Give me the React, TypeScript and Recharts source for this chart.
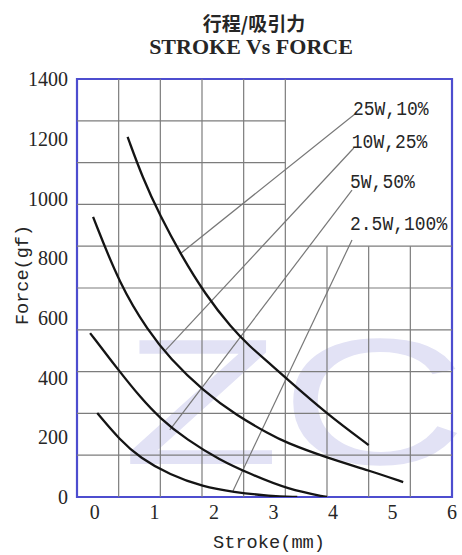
import React from "react";
import {
  LineChart, Line, XAxis, YAxis, ReferenceLine, ReferenceArea, Label,
} from "recharts";

// ── Curves: stroke (mm) → force (gf) ──────────────────────────────────────
const stroke25W = [0.55, 0.8, 1.1, 1.45, 1.85, 2.3, 2.6, 2.95, 3.2, 3.9, 4.6];
const force25W  = [1206, 1070, 940, 810, 680, 565, 505, 445, 400, 278, 174];

const stroke10W = [-0.03, 0.42, 0.9, 1.26, 1.82, 2.39, 2.94, 3.19, 3.9, 4.62, 5.18];
const force10W  = [938, 710, 555, 465, 355, 272, 210, 184, 131, 88, 50];

const stroke5W = [-0.08, 0.42, 0.76, 1.09, 1.55, 2.1, 2.6, 3.25, 3.9];
const force5W  = [549, 419, 335, 264, 191, 124, 78, 25, 0];

const stroke2W = [0.04, 0.42, 0.76, 1.26, 1.82, 2.32, 2.94, 3.4];
const force2W  = [281, 191, 131, 74, 34, 17, 3, 0];

// ── Leader lines: [label end, curve end] ──────────────────────────────────
const seriesNames  = ["25W,10%", "10W,25%", "5W,50%", "2.5W,100%"];
const leaderStroke = [[4.37, 1.43], [4.35, 1.19], [4.32, 1.26], [4.32, 2.32]];
const leaderForce  = [[1283, 814], [1169, 492], [1028, 225], [861, 20]];
const labelShift   = [1, 0, -2, -10];

// ── Axes / grid ───────────────────────────────────────────────────────────
const xTicks = [0, 1, 2, 3, 4, 5, 6];
const yTicks = [0, 200, 400, 600, 800, 1000, 1200, 1400];
const gridX  = [0.4, 1.1, 1.8, 2.5, 3.2, 3.9, 4.6, 5.3];
const gridY  = [140, 280, 420, 560, 700, 840, 980, 1120, 1260];

const BLUE = "#4d4dcf";
const GRID = "#7c7c7c";
const TEXT = "#262626";
const SERIF = "'Liberation Serif', 'DejaVu Serif', serif";
const MONO  = "'Liberation Mono', 'DejaVu Sans Mono', monospace";

const toPoints = (xs: number[], ys: number[]) => xs.map((x, i) => ({ x, y: ys[i] }));

const curves = [
  toPoints(stroke25W, force25W),
  toPoints(stroke10W, force10W),
  toPoints(stroke5W, force5W),
  toPoints(stroke2W, force2W),
];

const leaders = leaderStroke.map((xs, i) => toPoints(xs, leaderForce[i]));

const LeaderLabel = (name: string, shift: number) => (props: any) => {
  if (props.index !== 0) return null;
  return (
    <text
      x={props.x - 2} y={props.y + shift}
      fontFamily={MONO} fontSize={20} fill={TEXT}
      textLength={name.length * 10.8} lengthAdjust="spacingAndGlyphs"
    >
      {name}
    </text>
  );
};

export default function App() {
  return (
    <div style={{ position: "absolute", left: 0, top: 0, width: 462, height: 555, background: "#fff" }}>
      {/* watermark */}
      <svg width={462} height={555} style={{ position: "absolute", left: 0, top: 0 }}>
        <text x={122} y={464} fontFamily="'Liberation Sans', sans-serif" fontSize={180}
          fill="#e2e2f5" textLength={345} lengthAdjust="spacingAndGlyphs">ZC</text>
      </svg>

      <div style={{ position: "absolute", left: 0, top: 0 }}>
        <svg width={462} height={70} style={{ position: "absolute", left: 0, top: 0 }}>
          <text x={254} y={31} textAnchor="middle" fontFamily="'Noto Sans CJK SC', sans-serif"
            fontWeight={700} fontSize={19} fill={TEXT}>行程/吸引力</text>
          <text x={251} y={54} textAnchor="middle" fontFamily={SERIF}
            fontWeight={700} fontSize={22} fill={TEXT}>STROKE Vs FORCE</text>
        </svg>

        <LineChart width={462} height={555} margin={{ top: 79, right: 10, left: 17, bottom: 28 }}>
          <XAxis
            dataKey="x" type="number" domain={[-0.3, 6]} ticks={xTicks}
            allowDataOverflow axisLine={false} tickLine={false} height={30}
            tick={{ fill: TEXT, fontSize: 20, fontFamily: SERIF }}
          >
            <Label content={() => (
              <text x={269} y={548} textAnchor="middle" fontFamily={MONO} fontSize={19}
                fill={TEXT} textLength={112} lengthAdjust="spacingAndGlyphs">Stroke(mm)</text>
            )} />
          </XAxis>
          <YAxis
            dataKey="y" type="number" domain={[0, 1400]} ticks={yTicks}
            allowDataOverflow axisLine={false} tickLine={false} width={60}
            tick={{ fill: TEXT, fontSize: 20, fontFamily: SERIF, dx: -1 }}
          >
            <Label content={() => (
              <text x={28} y={275} textAnchor="middle" fontFamily={MONO} fontSize={19}
                fill={TEXT} transform="rotate(-90 28 275)"
                textLength={100} lengthAdjust="spacingAndGlyphs">Force(gf)</text>
            )} />
          </YAxis>

          {/* grid: label box in the upper right stays clear */}
          {gridX.map((v) => (
            <ReferenceLine key={"gx" + v} stroke={GRID} strokeWidth={1.2}
              segment={[{ x: v, y: 0 }, { x: v, y: v > 3.2 ? 840 : 1400 }]} />
          ))}
          {gridY.map((v) => (
            <ReferenceLine key={"gy" + v} stroke={GRID} strokeWidth={1.2}
              segment={[{ x: -0.3, y: v }, { x: v > 840 ? 3.2 : 6, y: v }]} />
          ))}

          {leaders.map((pts, i) => (
            <Line key={"ld" + i} data={pts} dataKey="y" type="linear" stroke="#777"
              strokeWidth={1.2} dot={false} isAnimationActive={false}
              label={LeaderLabel(seriesNames[i], labelShift[i])} />
          ))}

          {curves.map((pts, i) => (
            <Line key={"c" + i} data={pts} dataKey="y" type="basis" stroke="#141414"
              strokeWidth={2.3} dot={false} isAnimationActive={false} />
          ))}

          <ReferenceArea x1={-0.3} x2={6} y1={0} y2={1400} fill="none" fillOpacity={0}
            stroke={BLUE} strokeWidth={2.2} />
        </LineChart>
      </div>
    </div>
  );
}
